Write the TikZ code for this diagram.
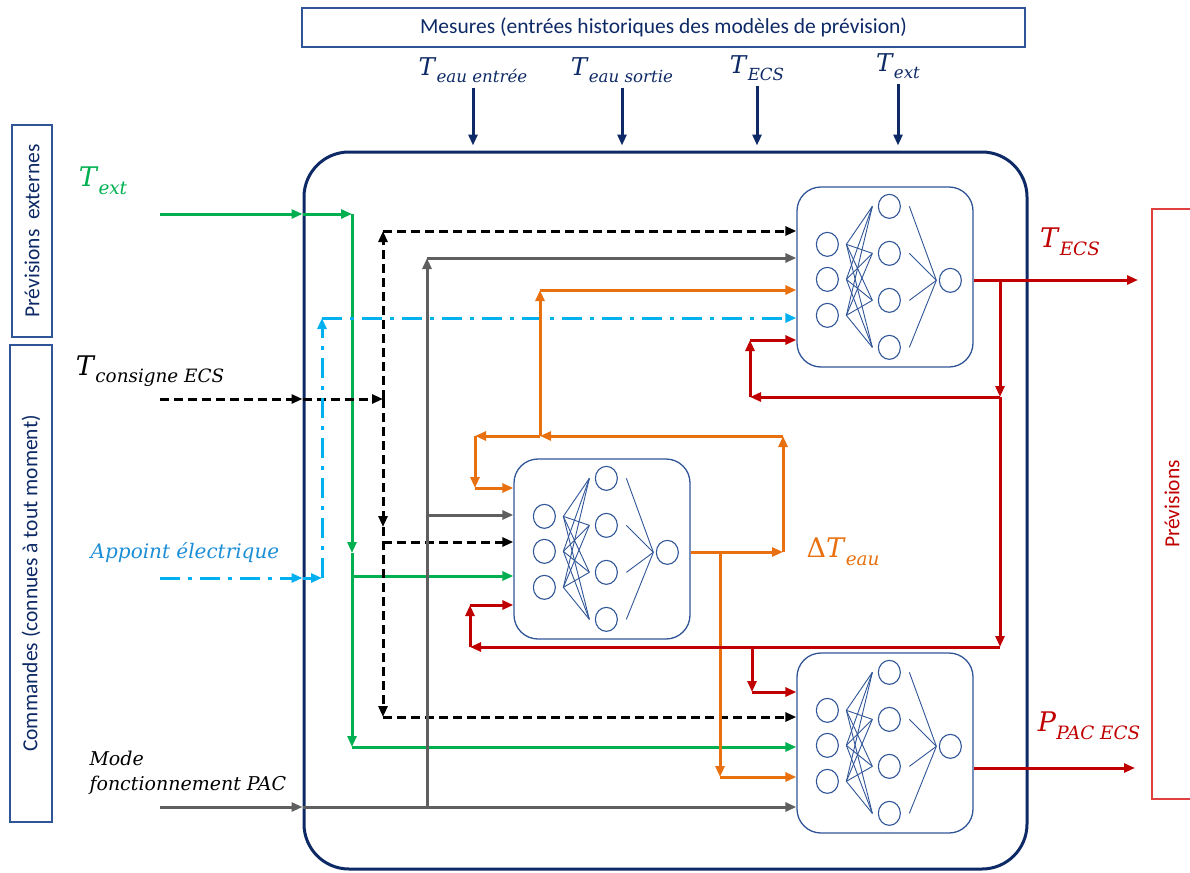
\documentclass[tikz,border=0pt]{standalone}
\usepackage{amsmath}
\usepackage{fontspec}
\usepackage{tikz}
\usetikzlibrary{arrows.meta,positioning,calc,shapes.geometric}
\newfontfamily\calibri{Carlito}
\newfontfamily\formule{DejaVu Serif}
\definecolor{PacNavy}{HTML}{0E2A66}
\definecolor{PacSlate}{HTML}{2F5597}
\definecolor{PacGreen}{HTML}{00B050}
\definecolor{PacGray}{HTML}{5F5F5F}
\definecolor{PacSky}{HTML}{00B0F0}
\definecolor{PacSkyTxt}{HTML}{1C8ED6}
\definecolor{PacOrange}{HTML}{E8700F}
\definecolor{PacRed}{HTML}{C00000}
\definecolor{PacPink}{HTML}{E04040}

% grandeur avec indice, en italique
\newcommand{\grandeur}[2]{\textit{#1}\raisebox{-0.28em}{\scalebox{0.68}{\textit{#2}}}}

% neurones d'un reseau, places dans la boite #1
\newcommand{\reseau}[1]{%
  \foreach \k/\dy in {1/58,2/93,3/129}
    \node[neur] (#1-i\k) at ($(#1.north west)+(31,\dy)$) {};
  \foreach \k/\dy in {1/20,2/67,3/114,4/161}
    \node[neur] (#1-h\k) at ($(#1.north west)+(93,\dy)$) {};
  \node[neur] (#1-o) at ($(#1.north west)+(154,94)$) {};
  \foreach \a in {1,2,3}
    \foreach \b in {1,2,3,4}
      \draw[syn] ($(#1-i\a)+(19,0)$) -- ($(#1-h\b)+(-17,0)$);
  \foreach \b in {1,2,3,4}
    \draw[syn] ($(#1-h\b)+(20,0)$) -- ($(#1-o)+(-14,0)$);
}

\begin{document}
\begin{tikzpicture}[x=1pt,y=-1pt,>={Triangle[length=11pt,width=9pt]}]
\tikzstyle{cadre}=[rectangle,draw=PacSlate,line width=1.3pt,inner sep=0pt,
                   font=\calibri\fontsize{21.5}{24}\selectfont,text=PacNavy]
\tikzstyle{nnbox}=[rectangle,rounded corners=24pt,draw=PacSlate,line width=1.3pt,
                   minimum width=176pt,minimum height=180pt]
\tikzstyle{neur}=[ellipse,draw=PacSlate,line width=1.1pt,minimum width=22pt,
                  minimum height=24pt,inner sep=0pt]
\tikzstyle{syn}=[draw=PacSlate,line width=0.9pt]
\tikzstyle{lien}=[line width=3pt]
\tikzstyle{lienvert}=[lien,PacGreen]
\tikzstyle{lienconsigne}=[lien,black,dash pattern=on 9pt off 5pt]
\tikzstyle{lienmode}=[lien,PacGray]
\tikzstyle{lienappoint}=[lien,PacSky,dash pattern=on 20pt off 8pt on 4pt off 8pt]
\tikzstyle{liendelta}=[lien,PacOrange]
\tikzstyle{liensortie}=[lien,PacRed]
\tikzstyle{lienmesure}=[lien,PacNavy]
\tikzstyle{grand}=[font=\formule\fontsize{27}{30}\selectfont,inner sep=2pt]
\tikzstyle{meslbl}=[font=\formule\fontsize{24.5}{27}\selectfont,inner sep=2pt,text=PacNavy]

\useasboundingbox (0,0) rectangle (1190,872);

% cadres
\node[cadre,minimum width=723pt,minimum height=39pt] (mes) at (663.5,27.5)
  {Mesures (entrées historiques des modèles de prévision)};
\node[cadre,rotate=90,minimum width=212pt,minimum height=40pt] (prevext) at (32,231)
  {Prévisions~~externes};
\node[cadre,rotate=90,minimum width=477pt,minimum height=42pt] (cmd) at (31,583.5)
  {Commandes (connues à tout moment)};
\node[cadre,rotate=90,draw=PacPink,text=PacRed,minimum width=590pt,minimum height=40pt]
  (prev) at (1172,504) {Prévisions};
\node[draw=PacNavy,line width=3pt,rounded corners=45pt,minimum width=723pt,
      minimum height=717pt] (main) at (665.5,510.5) {};

% reseaux
\node[nnbox] (nnA) at (885,277) {};
\node[nnbox] (nnB) at (602,549) {};
\node[nnbox] (nnC) at (885,743) {};
\reseau{nnA}
\reseau{nnB}
\reseau{nnC}

% mesures
\node[meslbl] (lTeauE) at (473,70) {\grandeur{T}{eau entrée}};
\node[meslbl] (lTeauS) at (622,70) {\grandeur{T}{eau sortie}};
\node[meslbl] (lTecs) at (757,68) {\grandeur{T}{ECS}};
\node[meslbl] (lText) at (898,66) {\grandeur{T}{ext}};
\foreach \m in {lTeauE,lTeauS,lTecs,lText}
  \draw[lienmesure,->,shorten <=3pt,shorten >=5pt] (\m.south) -- (\m.south |- main.north);

% entrees
\node[grand,text=PacGreen] (iText) at (103,181) {\grandeur{T}{ext}};
\node[grand] (iTcons) at (150,371) {\grandeur{T}{consigne ECS}};
\node[font=\formule\fontsize{20}{22}\selectfont\itshape,text=PacSkyTxt] (iApp) at (185,553)
  {Appoint électrique};
\node[font=\formule\fontsize{19}{25}\selectfont\itshape,align=left,anchor=west] (iMode)
  at (86,773) {Mode\\fonctionnement PAC};

% sorties
\node[grand,text=PacRed] (oTecs) at (1070,242) {\grandeur{T}{ECS}};
\node[grand,text=PacOrange] (oDT) at (843,552) {Δ\grandeur{T}{eau}};
\node[grand,text=PacRed] (oPpac) at (1089,726) {\grandeur{P}{PAC ECS}};

% Text prevision
\coordinate (gIn) at (160,214);
\coordinate (gJ) at (352,214);
\coordinate (gM) at (352,553);
\coordinate (gB) at (352,576);
\coordinate (gC) at (352,747);
\draw[lienvert,->] (gIn) -- (gIn -| main.west);
\draw[lienvert,->] (gIn -| main.west) -- (gJ);
\draw[lienvert,->] (gJ) -- (gM);
\draw[lienvert,->] (gM) -- (gC);
\draw[lienvert,->] (gB) -- (gB -| nnB.west);
\draw[lienvert,->] (gC) -- (gC -| nnC.west);

% consigne
\coordinate (kIn) at (160,399);
\coordinate (kJ) at (383,399);
\coordinate (kA) at (383,231);
\coordinate (kM) at (383,527);
\coordinate (kB) at (383,542);
\coordinate (kC) at (383,717);
\draw[lienconsigne,->] (kIn) -- (kIn -| main.west);
\draw[lienconsigne,->] (kIn -| main.west) -- (kJ);
\draw[lienconsigne,->] (kJ) -- (kA);
\draw[lienconsigne,->] (kA) -- (kA -| nnA.west);
\draw[lienconsigne,->] (kJ) -- (kM);
\draw[lienconsigne,->] (kM) -- (kC);
\draw[lienconsigne,->] (kB) -- (kB -| nnB.west);
\draw[lienconsigne,->] (kC) -- (kC -| nnC.west);

% appoint
\coordinate (aIn) at (160,578);
\coordinate (aJ) at (322,578);
\coordinate (aA) at (322,318);
\draw[lienappoint,->] (aIn) -- (aIn -| main.west);
\draw[lienappoint,->] (aIn -| main.west) -- (aJ);
\draw[lienappoint,->] (aJ) -- (aA);
\draw[lienappoint,->] (aA) -- (aA -| nnA.west);

% mode PAC
\coordinate (mIn) at (160,807);
\coordinate (mJ) at (427,807);
\coordinate (mA) at (427,258);
\coordinate (mB) at (427,515);
\draw[lienmode,->] (mIn) -- (mIn -| main.west);
\draw[lienmode,->] (mIn -| main.west) -- (mIn -| nnC.west);
\draw[lienmode,->] (mJ) -- (mA);
\draw[lienmode,->] (mA) -- (mA -| nnA.west);
\draw[lienmode,->] (mB) -- (mB -| nnB.west);

% delta T eau
\coordinate (dOut) at (691,552);
\coordinate (dR) at (783,552);
\coordinate (dT) at (783,436);
\coordinate (dU) at (540,436);
\coordinate (dL) at (475,436);
\coordinate (dD) at (475,488);
\coordinate (dA) at (540,290);
\coordinate (dV) at (720,552);
\coordinate (dC) at (720,777);
\draw[liendelta,->] (dOut) -- (dR);
\draw[liendelta,->] (dR) -- (dT);
\draw[liendelta,->] (dT) -- (dU);
\draw[liendelta,->] (dU) -- (dL);
\draw[liendelta,->] (dL) -- (dD);
\draw[liendelta,->] (dD) -- (dD -| nnB.west);
\draw[liendelta,->] (dU) -- (dA);
\draw[liendelta,->] (dA) -- (dA -| nnA.west);
\draw[liendelta,->] (dV) -- (dC);
\draw[liendelta,->] (dC) -- (dC -| nnC.west);

% T ECS et P PAC
\coordinate (rJ) at (1000,280);
\coordinate (rEnd) at (1138,280);
\coordinate (rK) at (1000,397);
\coordinate (rL) at (750,397);
\coordinate (rA) at (750,340);
\coordinate (rP) at (1000,647);
\coordinate (rQ) at (470,647);
\coordinate (rB) at (470,605);
\coordinate (rV) at (752,647);
\coordinate (rC) at (752,692);
\coordinate (pEnd) at (1135,768);
\draw[liensortie,->] (rJ -| nnA.east) -- (rEnd);
\draw[liensortie,->] (rJ) -- (rK);
\draw[liensortie,->] (rK) -- (rL);
\draw[liensortie,->] (rL) -- (rA);
\draw[liensortie,->] (rA) -- (rA -| nnA.west);
\draw[liensortie,->] (rK) -- (rP);
\draw[liensortie,->] (rP) -- (rQ);
\draw[liensortie,->] (rQ) -- (rB);
\draw[liensortie,->] (rB) -- (rB -| nnB.west);
\draw[liensortie,->] (rV) -- (rC);
\draw[liensortie,->] (rC) -- (rC -| nnC.west);
\draw[liensortie,->] (pEnd -| nnC.east) -- (pEnd);
\end{tikzpicture}
\end{document}
